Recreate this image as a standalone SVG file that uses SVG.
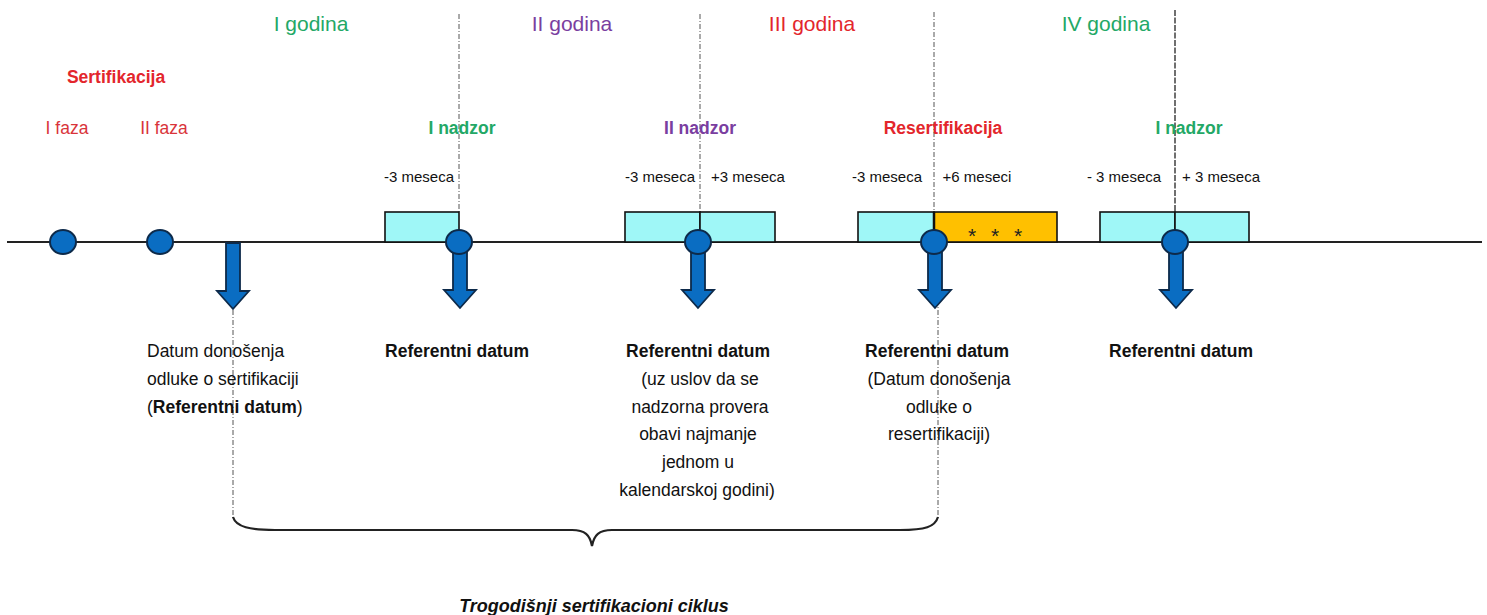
<svg xmlns="http://www.w3.org/2000/svg" width="1487" height="615" viewBox="0 0 1487 615">
<style>
text{font-family:"Liberation Sans",Arial,sans-serif;}
.yr{font-size:21px;text-anchor:middle}
.hd{font-size:17.5px;font-weight:bold;text-anchor:middle}
.ph{font-size:17.5px;text-anchor:middle;fill:#d9343a}
.mo{font-size:15px;text-anchor:middle;fill:#111}
.bt{font-size:17.5px;fill:#111}
.c{text-anchor:middle}
.b{font-weight:bold}
.g{fill:#23a866}.p{fill:#7a3ea0}.r{fill:#e3262c}
.dash{stroke:#555;stroke-width:1;stroke-dasharray:5,2,1,2;fill:none}
.win{fill:#9ff7f7;stroke:#111;stroke-width:1.6}
.dot{fill:#0a6dc2;stroke:#0d2a4a;stroke-width:2}
.arr{fill:#0a6dc2;stroke:#0d2a4a;stroke-width:1.8}
.st{font-size:21px;text-anchor:middle;fill:#222}
</style>
<defs>
<path id="darrow" d="M-7,0 H7 V48 H16 L0,66 L-16,48 H-7 Z"/>
</defs>
<rect width="1487" height="615" fill="#fff"/>

<g id="connectors">
<line x1="7" y1="242" x2="1482" y2="242" stroke="#222" stroke-width="2"/>
<line class="dash" x1="459" y1="14" x2="459" y2="212"/>
<line class="dash" x1="700" y1="14" x2="700" y2="212"/>
<line class="dash" x1="934" y1="12" x2="934" y2="212"/>
<line class="dash" x1="938" y1="300" x2="938" y2="520"/>
<line class="dash" x1="233" y1="300" x2="233" y2="520"/>
<line x1="1175" y1="10" x2="1175" y2="212" stroke="#333" stroke-width="1.4" stroke-dasharray="6,1.5"/>
<path d="M233,517 C236,527 250,530 275,530 L572,530 C585,530 590,535 592,546 C594,535 599,530 612,530 L900,530 C925,530 935,527 938,517" fill="none" stroke="#222" stroke-width="2.2"/>
</g>

<g id="years">
<text class="yr g" x="311" y="31">I godina</text>
<text class="yr p" x="572" y="31">II godina</text>
<text class="yr r" x="812" y="31">III godina</text>
<text class="yr g" x="1106" y="31">IV godina</text>
</g>

<g id="cert">
<text class="hd r" x="116" y="83">Sertifikacija</text>
<text class="ph" x="67" y="134">I faza</text>
<text class="ph" x="164" y="134">II faza</text>
<ellipse class="dot" cx="63" cy="242" rx="13" ry="12"/>
<ellipse class="dot" cx="160" cy="242" rx="13" ry="12"/>
</g>

<g id="decision">
<use href="#darrow" class="arr" x="233" y="243"/>
<text class="bt" x="147" y="357">Datum donošenja</text>
<text class="bt" x="147" y="385">odluke o sertifikaciji</text>
<text class="bt" x="147" y="413">(<tspan class="b">Referentni datum</tspan>)</text>
</g>

<g id="nadzor1">
<text class="hd g" x="462" y="134">I nadzor</text>
<text class="mo" x="419" y="182">-3 meseca</text>
<rect class="win" x="385" y="212" width="74" height="30"/>
<use href="#darrow" class="arr" x="460" y="242"/>
<ellipse class="dot" cx="459" cy="242" rx="13" ry="12"/>
<text class="bt c b" x="457" y="357">Referentni datum</text>
</g>

<g id="nadzor2">
<text class="hd p" x="700" y="134">II nadzor</text>
<text class="mo" x="660" y="182">-3 meseca</text>
<text class="mo" x="748" y="182">+3 meseca</text>
<rect class="win" x="625" y="212" width="75" height="30"/>
<rect class="win" x="700" y="212" width="75" height="30"/>
<use href="#darrow" class="arr" x="698" y="242"/>
<ellipse class="dot" cx="698" cy="242" rx="13" ry="12"/>
<text class="bt c b" x="698" y="357">Referentni datum</text>
<text class="bt c" x="700" y="385">(uz uslov da se</text>
<text class="bt c" x="700" y="413">nadzorna provera</text>
<text class="bt c" x="698" y="440">obavi najmanje</text>
<text class="bt c" x="698" y="468">jednom u</text>
<text class="bt c" x="697" y="496">kalendarskoj godini)</text>
</g>

<g id="resert">
<text class="hd r" x="943" y="134">Resertifikacija</text>
<text class="mo" x="887" y="182">-3 meseca</text>
<text class="mo" x="977" y="182">+6 meseci</text>
<rect class="win" x="858" y="212" width="76" height="30"/>
<rect x="934" y="212" width="123" height="30" fill="#ffc000" stroke="#111" stroke-width="1.6"/>
<line x1="934" y1="212" x2="934" y2="242" stroke="#111" stroke-width="2.5"/>
<text class="st" x="972" y="243">*</text>
<text class="st" x="995" y="243">*</text>
<text class="st" x="1018" y="243">*</text>
<use href="#darrow" class="arr" x="935" y="242"/>
<ellipse class="dot" cx="934" cy="242" rx="13" ry="12"/>
<text class="bt c b" x="937" y="357">Referentni datum</text>
<text class="bt c" x="939" y="385">(Datum donošenja</text>
<text class="bt c" x="939" y="413">odluke o</text>
<text class="bt c" x="939" y="440">resertifikaciji)</text>
</g>

<g id="nadzor4">
<text class="hd g" x="1189" y="134">I nadzor</text>
<text class="mo" x="1124" y="182">- 3 meseca</text>
<text class="mo" x="1221" y="182">+ 3 meseca</text>
<rect class="win" x="1100" y="212" width="75" height="30"/>
<rect class="win" x="1175" y="212" width="74" height="30"/>
<use href="#darrow" class="arr" x="1176" y="242"/>
<ellipse class="dot" cx="1175" cy="242" rx="13" ry="12"/>
<text class="bt c b" x="1181" y="357">Referentni datum</text>
</g>

<g id="cycle">
<text x="594" y="612" font-size="18" font-weight="bold" font-style="italic" text-anchor="middle" fill="#111">Trogodišnji sertifikacioni ciklus</text>
</g>
</svg>
